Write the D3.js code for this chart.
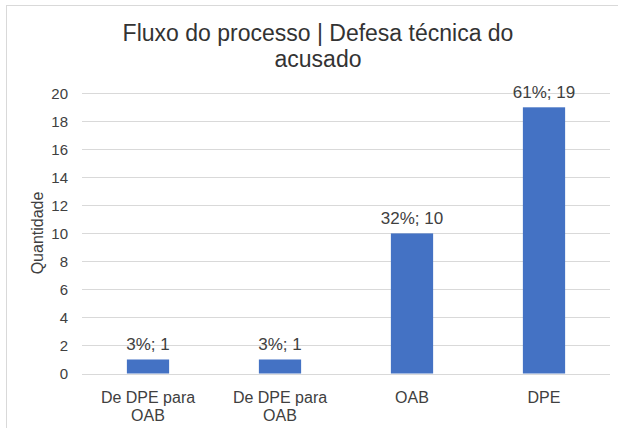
<!DOCTYPE html>
<html>
<head>
<meta charset="utf-8">
<script src="https://cdn.jsdelivr.net/npm/d3@7"></script>
<style>
  body { margin: 0; background: #fff; }
  text { font-family: "Liberation Sans", Arial, sans-serif; fill: #404040; }
</style>
</head>
<body>
<script>
// chart data
var categories = [["De DPE para", "OAB"], ["De DPE para", "OAB"], ["OAB"], ["DPE"]];
var values = [1, 1, 10, 19];
var percents = [3, 3, 32, 61];
var yTicks = [0, 2, 4, 6, 8, 10, 12, 14, 16, 18, 20];
var titleLines = ["Fluxo do processo | Defesa técnica do", "acusado"];
var yTitle = "Quantidade";

var chartW = 618, chartH = 428;
var plotLeft = 82, plotRight = 610, plotTop = 93.3, plotBottom = 373.5;

var svg = d3.select("body").append("svg")
    .attr("width", chartW)
    .attr("height", chartH);

// chart area border (only left/top visible in the crop)
svg.append("rect")
    .attr("x", 6.5).attr("y", 5.5)
    .attr("width", 640).attr("height", 440)
    .attr("fill", "none")
    .attr("stroke", "#d9d9d9");

var x = d3.scaleBand()
    .domain(d3.range(values.length))
    .range([plotLeft, plotRight])
    .paddingInner(0.68)
    .paddingOuter(0.34);

var y = d3.scaleLinear()
    .domain([0, 20])
    .range([plotBottom, plotTop]);

// gridlines
svg.append("g").selectAll("line")
    .data(yTicks)
    .enter().append("line")
    .attr("x1", plotLeft).attr("x2", plotRight)
    .attr("y1", function(d) { return Math.round(y(d)) + 0.5; })
    .attr("y2", function(d) { return Math.round(y(d)) + 0.5; })
    .attr("stroke", "#d9d9d9")
    .attr("stroke-width", 1);

// y tick labels
var yAx = svg.append("g")
    .attr("transform", "translate(" + (plotLeft - 14) + ",0)")
    .call(d3.axisLeft(y).tickValues(yTicks).tickSize(0).tickPadding(0));
yAx.select(".domain").remove();
yAx.selectAll("text")
    .attr("font-size", "15px")
    .attr("font-family", "Liberation Sans, Arial, sans-serif")
    .attr("fill", "#404040")
    .attr("dy", "0.36em");

// bars
svg.append("g").selectAll("rect")
    .data(values)
    .enter().append("rect")
    .attr("x", function(d, i) { return x(i); })
    .attr("y", function(d) { return y(d); })
    .attr("width", x.bandwidth())
    .attr("height", function(d) { return y(0) - y(d); })
    .attr("fill", "#4472c4");

// data labels
svg.append("g").selectAll("text")
    .data(values)
    .enter().append("text")
    .attr("x", function(d, i) { return x(i) + x.bandwidth() / 2; })
    .attr("y", function(d) { return y(d) - 9; })
    .attr("text-anchor", "middle")
    .attr("font-size", "17px")
    .text(function(d, i) { return percents[i] + "%; " + d; });

// category labels
var cat = svg.append("g").selectAll("text")
    .data(categories)
    .enter().append("text")
    .attr("text-anchor", "middle")
    .attr("font-size", "16px")
    .attr("transform", function(d, i) { return "translate(" + (x(i) + x.bandwidth() / 2) + ",403)"; });
cat.selectAll("tspan")
    .data(function(d) { return d; })
    .enter().append("tspan")
    .attr("x", 0)
    .attr("y", function(d, j) { return j * 18; })
    .text(function(d) { return d; });

// y axis title
svg.append("text")
    .attr("transform", "translate(43,233) rotate(-90)")
    .attr("text-anchor", "middle")
    .attr("font-size", "16px")
    .text(yTitle);

// chart title
svg.append("text")
    .attr("text-anchor", "middle")
    .attr("font-size", "23px")
    .style("fill", "#333")
    .selectAll("tspan")
    .data(titleLines)
    .enter().append("tspan")
    .attr("x", 318)
    .attr("y", function(d, i) { return 41 + i * 26; })
    .text(function(d) { return d; });
</script>
</body>
</html>
